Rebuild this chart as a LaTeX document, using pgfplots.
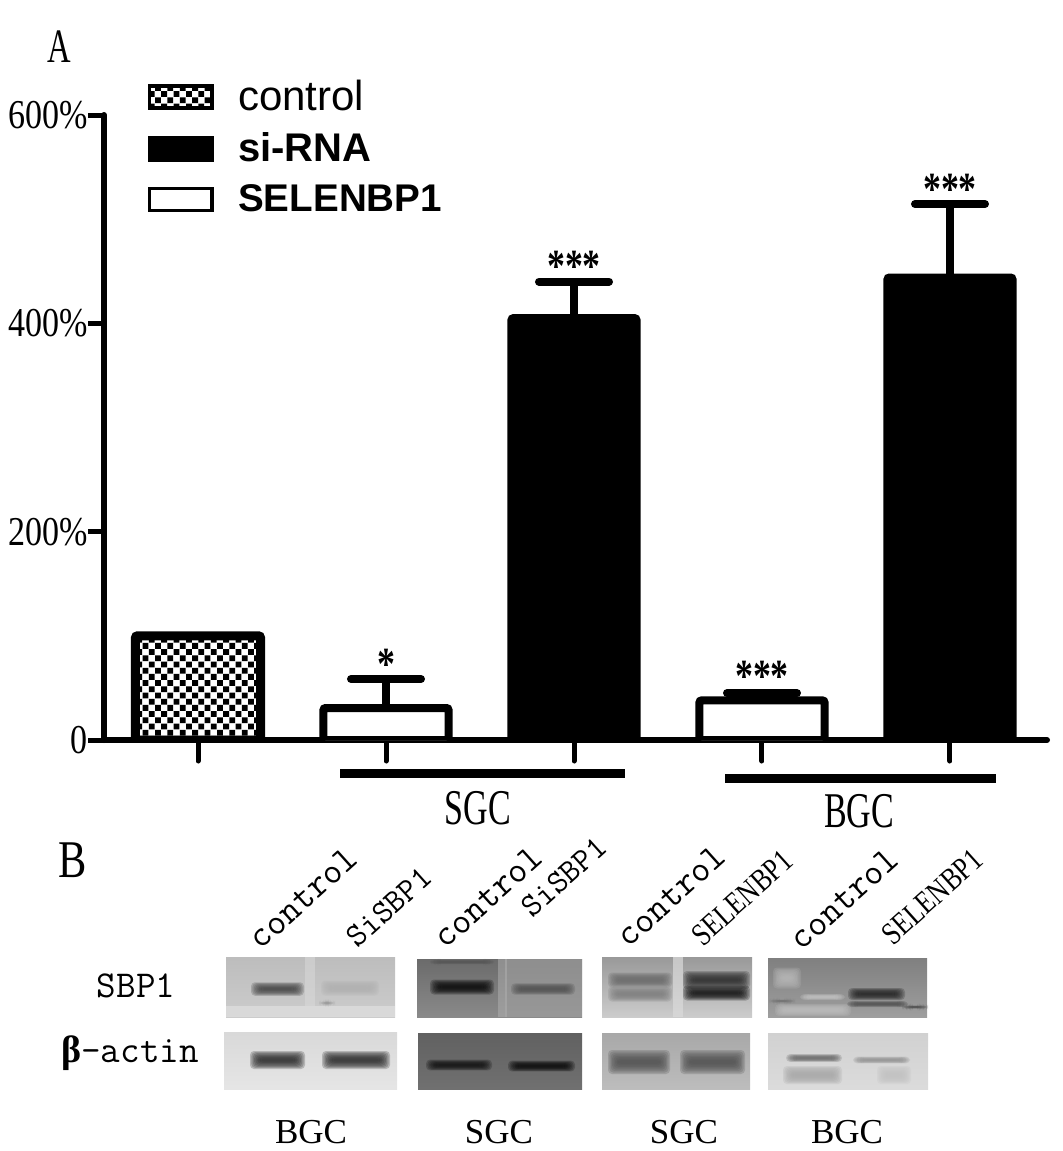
\documentclass[border=0pt]{standalone}
\usepackage{fontspec}
\setmainfont{Liberation Serif}
\usepackage{pgfplots}
\pgfplotsset{compat=1.18}
\usetikzlibrary{patterns}
\newfontfamily\serifA[FakeStretch=0.83]{Liberation Serif}
\newfontfamily\serifB[FakeStretch=0.68]{Liberation Serif}
\newfontfamily\serifC[FakeStretch=0.80]{Liberation Serif}
\newfontfamily\starf[FakeStretch=0.78]{Liberation Serif}
\newfontfamily\arialf{Liberation Sans}
\newcommand{\fs}[1]{\fontsize{#1}{#1}\selectfont}
\pgfdeclarepatternformonly{chk}{\pgfqpoint{-0.1pt}{-0.1pt}}{\pgfqpoint{6.3pt}{6.3pt}}{\pgfqpoint{6.2pt}{6.2pt}}{%
  \pgfpathrectangle{\pgfqpoint{0pt}{0pt}}{\pgfqpoint{2.9pt}{2.9pt}}%
  \pgfpathrectangle{\pgfqpoint{3.1pt}{3.1pt}}{\pgfqpoint{2.9pt}{2.9pt}}%
  \pgfusepath{fill}}
% soft band on a blot: x1, x2, y centre, half height, darkness
\newcommand{\band}[5]{%
  \foreach \k in {0,1,2,3,4,5,6,7}{%
    \fill[black!#5!white, fill opacity=0.24, rounded corners=2pt]
      ({#1-3+\k*1.4},{#3-(#4)*(1.5-0.18*\k)}) rectangle ({#2+3-\k*1.4},{#3+(#4)*(1.5-0.18*\k)});
  }}
% blot panel: x1, y1, x2, y2, top darkness, bottom darkness
\newcommand{\panel}[6]{\shade[top color=black!#5, bottom color=black!#6] (#1,#2) rectangle (#3,#4);}
\begin{document}
\begin{tikzpicture}
\path[use as bounding box] (0,0) rectangle (531.5pt,-575.5pt);
\begin{axis}[
  at={(52pt,-370pt)}, anchor=south west,
  scale only axis, width=471.5pt, height=312.5pt,
  xmin=-0.5, xmax=4.516, ymin=0, ymax=600, clip mode=individual,
  axis lines*=left,
  axis line style={-, line width=3pt, line cap=round},
  tick align=outside,
  xtick=\empty,
  extra x ticks={0,1,2,3,4}, extra x tick labels={},
  extra x tick style={major tick length=10.5pt, tick style={black, line width=2.5pt, line cap=round}},
  ytick={0,200,400,600}, yticklabels={0\hspace{12pt},200\%,400\%,600\%},
  major tick length=8pt,
  y tick style={black, line width=2.5pt},
  yticklabel style={font=\serifA\fs{20.5}, inner xsep=0pt},
  ybar, bar width=62.5pt,
  legend cell align=left,
  legend style={draw=none, fill=none, at={(0.0396,1.066)}, anchor=north west,
    row sep=7.7pt,
    nodes={inner xsep=12.25pt, inner ysep=1pt}},
  error bars/y dir=plus, error bars/y explicit,
  error bars/error bar style={black, line width=4pt},
  error bars/error mark options={rotate=90, black, mark size=17.5pt, line width=4pt, line cap=round},
]
\addplot[bar shift=0pt, draw=black, line width=4.5pt, rounded corners=1pt, pattern=chk, pattern color=black,
  legend image code/.code={\draw[sharp corners, line width=1.8pt, pattern=chk, pattern color=black] (0pt,-5.5pt) rectangle (31.2pt,5.5pt);}]
  coordinates {(0,100)};
\addlegendentry{\arialf\fs{21}control}
\addplot[bar shift=0pt, draw=black, fill=black, line width=4pt, rounded corners=1pt,
  legend image code/.code={\fill[draw=none, sharp corners, black] (-0.9pt,-6.4pt) rectangle (32.1pt,6.4pt);}]
  coordinates {(2,405) +- (0,35) (4,444) +- (0,70.5)};
\addlegendentry{\arialf\bfseries\fs{20}si-RNA}
\addplot[bar shift=0pt, draw=black, fill=white, line width=4pt, rounded corners=1pt,
  legend image code/.code={\draw[sharp corners, line width=1.8pt] (0pt,-5.5pt) rectangle (31.2pt,5.5pt);}]
  coordinates {(1,30.7) +- (0,27.8) (3,38) +- (0,7)};
\addlegendentry{\arialf\bfseries\fs{19.3}SELENBP1}
\node[anchor=base, font=\starf\bfseries\fs{23}, inner sep=0pt] at (axis cs:1,58.5) {*};
\node[anchor=base, font=\starf\bfseries\fs{23}, inner sep=0pt] at (axis cs:2,440) {***};
\node[anchor=base, font=\starf\bfseries\fs{23}, inner sep=0pt] at (axis cs:3,47) {***};
\node[anchor=base, font=\starf\bfseries\fs{23}, inner sep=0pt] at (axis cs:4,514.5) {***};
\end{axis}
\begin{scope}[x=0.5pt,y=-0.5pt]
\node[font=\serifB\fs{24}, inner sep=0pt] at (59,47) {A};
\node[font=\serifC\fs{26.5}, inner sep=0pt] at (73,860) {B};
\fill[black] (340,768.5) rectangle (625,777.5);
\fill[black] (725,773.5) rectangle (996,782.5);
\node[font=\serifB\fs{25}, inner sep=0pt] at (478,808) {SGC};
\node[font=\serifB\fs{25}, inner sep=0pt] at (859,811) {BGC};
% blots
\panel{226}{957}{395}{1017}{26}{20}
\fill[black!12, fill opacity=0.7] (226,1006) rectangle (395,1017);
\fill[black!14, fill opacity=0.5] (305,957) rectangle (315,1006);
\band{254}{301}{989}{4.5}{72}
\band{324}{376}{988}{5}{30}
\band{322}{332}{1003}{1}{40}
\panel{224}{1032}{397}{1089}{15}{10}
\band{253}{302}{1060}{6}{82}
\band{325}{387}{1060}{6}{82}
\panel{417}{959}{582}{1017}{58}{46}
\fill[black!38, fill opacity=0.7] (505,959) rectangle (582,1017);
\fill[black!30, fill opacity=0.5] (498,959) rectangle (507,1017);
\band{433}{491}{962}{1.5}{66}
\band{433}{491}{987}{5}{95}
\band{514}{572}{989}{3.8}{68}
\panel{418}{1033}{582}{1089}{62}{56}
\band{429}{489}{1065}{3.6}{92}
\band{511}{572}{1066}{3.6}{95}
\panel{602}{957}{752}{1017}{40}{20}
\fill[black!14, fill opacity=0.7] (673,957) rectangle (683,1017);
\band{611}{669}{980}{5}{58}
\band{611}{669}{994}{5}{50}
\band{686}{747}{980}{6}{82}
\band{686}{747}{993}{5}{92}
\panel{602}{1033}{750}{1089}{34}{26}
\band{611}{667}{1062}{8}{68}
\band{683}{742}{1062}{8}{68}
\panel{768}{958}{927}{1017}{50}{38}
\band{776}{798}{978}{7}{28}
\band{778}{848}{1010}{4}{26}
\band{803}{842}{997}{2}{24}
\band{772}{792}{1001}{1}{55}
\band{851}{902}{994}{4}{85}
\band{850}{905}{1004}{2}{68}
\band{905}{925}{1007}{1}{70}
\panel{768}{1033}{928}{1089}{18}{14}
\band{789}{839}{1058}{2.6}{58}
\band{856}{907}{1060}{2.2}{42}
\band{786}{839}{1075}{6}{34}
\band{880}{908}{1075}{6}{24}
% blot labels
\foreach \px/\py/\t in {303/898/control, 488/897/control, 671/896/control, 844/899/control}
  \node[rotate=42, font=\ttfamily\fs{18.5}, inner sep=0pt] at (\px,\py) {\t};
\node[rotate=42, font=\ttfamily\fs{16.5}, inner sep=0pt] at (389,907) {SiSBP1};
\node[rotate=42, font=\ttfamily\fs{16.5}, inner sep=0pt] at (564,877) {SiSBP1};
\node[rotate=42, font=\serifC\fs{16}, inner sep=0pt] at (742,898) {SELENBP1};
\node[rotate=42, font=\serifC\fs{16}, inner sep=0pt] at (932,897) {SELENBP1};
\node[font=\ttfamily\fs{19}, inner sep=0pt] at (136,986) {SBP1};
\node[font=\fs{19}, inner sep=0pt] at (130,1053) {{\bfseries β}{\ttfamily-actin}};
\foreach \px/\t in {311/BGC, 499/SGC, 684/SGC, 847/BGC}
  \node[font=\fs{17.5}, inner sep=0pt] at (\px,1132) {\t};
\end{scope}
\end{tikzpicture}
\end{document}
